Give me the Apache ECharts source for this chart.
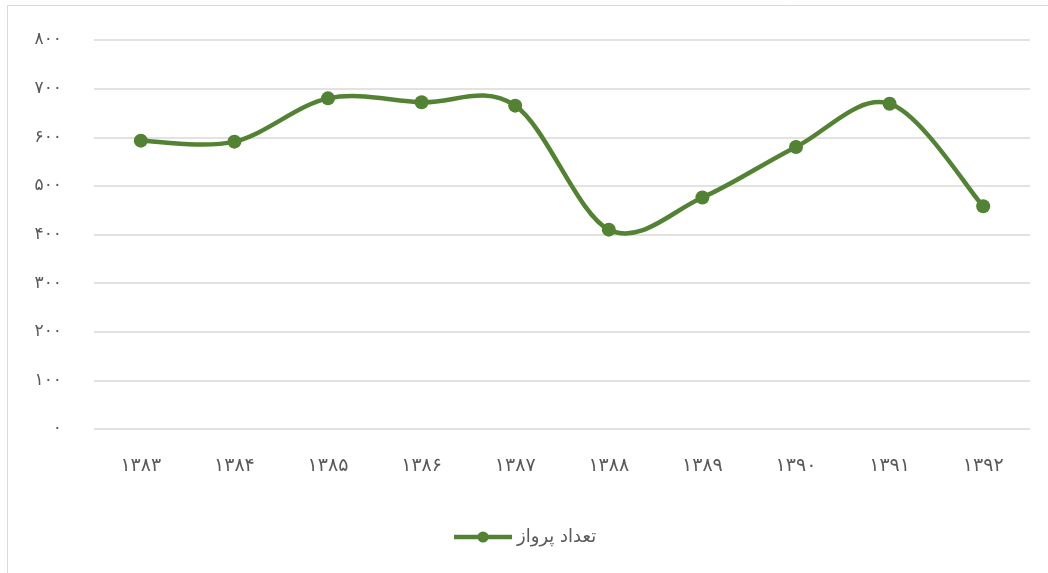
<!DOCTYPE html>
<html>
<head>
<meta charset="utf-8">
<script src="https://cdn.jsdelivr.net/npm/echarts@6/dist/echarts.min.js"></script>
<style>
  html, body { margin: 0; padding: 0; background: #fff; }
  #chart { width: 1048px; height: 573px; }
</style>
</head>
<body>
<div id="chart"></div>
<script>
var years = ['۱۳۸۳', '۱۳۸۴', '۱۳۸۵', '۱۳۸۶', '۱۳۸۷', '۱۳۸۸', '۱۳۸۹', '۱۳۹۰', '۱۳۹۱', '۱۳۹۲'];
var flights = [593, 591, 680, 672, 665, 410, 476, 580, 669, 458];
var yTicks = [0, 100, 200, 300, 400, 500, 600, 700, 800];
var yTickLabels = ['۰', '۱۰۰', '۲۰۰', '۳۰۰', '۴۰۰', '۵۰۰', '۶۰۰', '۷۰۰', '۸۰۰'];
var seriesName = 'تعداد پرواز';

var chart = echarts.init(document.getElementById('chart'));
var green = '#548235';
var font = '"DejaVu Sans", sans-serif';

// excel style smoothing (catmull-rom) through the axis coords
function smoothPath(params, api) {
    if (params.dataIndex !== 0) return;
    var pts = flights.map(function (v, i) { return api.coord([i, v]); });
    var d = 'M' + pts[0][0] + ' ' + pts[0][1];
    for (var i = 0; i < pts.length - 1; i++) {
        var p0 = pts[i - 1] || pts[i];
        var p1 = pts[i];
        var p2 = pts[i + 1];
        var p3 = pts[i + 2] || pts[i + 1];
        var c1x = p1[0] + (p2[0] - p0[0]) / 6, c1y = p1[1] + (p2[1] - p0[1]) / 6;
        var c2x = p2[0] - (p3[0] - p1[0]) / 6, c2y = p2[1] - (p3[1] - p1[1]) / 6;
        d += ' C' + c1x + ' ' + c1y + ' ' + c2x + ' ' + c2y + ' ' + p2[0] + ' ' + p2[1];
    }
    return {
        type: 'path',
        shape: { pathData: d },
        style: { fill: null, stroke: green, lineWidth: 4.5, lineCap: 'round', lineJoin: 'round' }
    };
}

var option = {
    animation: false,
    textStyle: { fontFamily: font },
    graphic: [{
        type: 'rect',
        shape: { x: 7.5, y: 5.5, width: 1100, height: 600 },
        style: { fill: 'none', stroke: '#d9d9d9', lineWidth: 1 },
        silent: true
    }],
    grid: {
        left: 94,
        right: 18,
        top: 40,
        bottom: 144
    },
    legend: {
        bottom: 22,
        left: 'center',
        itemWidth: 58,
        itemHeight: 14,
        itemGap: 10,
        textStyle: { color: '#595959', fontSize: 18, fontFamily: font },
        lineStyle: { width: 4.5, color: green, opacity: 1 },
        data: [seriesName]
    },
    xAxis: {
        type: 'category',
        data: years,
        boundaryGap: true,
        axisLine: { show: false },
        axisTick: { show: false },
        axisLabel: {
            color: '#595959',
            fontSize: 19,
            margin: 28,
            fontFamily: font
        }
    },
    yAxis: {
        type: 'value',
        min: 0,
        max: 800,
        interval: 100,
        axisLine: { show: false },
        axisTick: { show: false },
        splitLine: { lineStyle: { color: '#d9d9d9', width: 1.5 } },
        axisLabel: {
            color: '#595959',
            fontSize: 17,
            margin: 32,
            fontFamily: font,
            formatter: function (v) {
                var i = yTicks.indexOf(v);
                return i >= 0 ? yTickLabels[i] : '';
            }
        }
    },
    series: [{
        name: 'curve',
        type: 'custom',
        data: flights,
        renderItem: smoothPath,
        silent: true,
        z: 1
    }, {
        name: seriesName,
        type: 'line',
        data: flights,
        symbol: 'circle',
        symbolSize: 14,
        lineStyle: { color: green, width: 4.5, opacity: 0 },
        itemStyle: { color: green },
        z: 2
    }]
};
chart.setOption(option);
</script>
</body>
</html>
